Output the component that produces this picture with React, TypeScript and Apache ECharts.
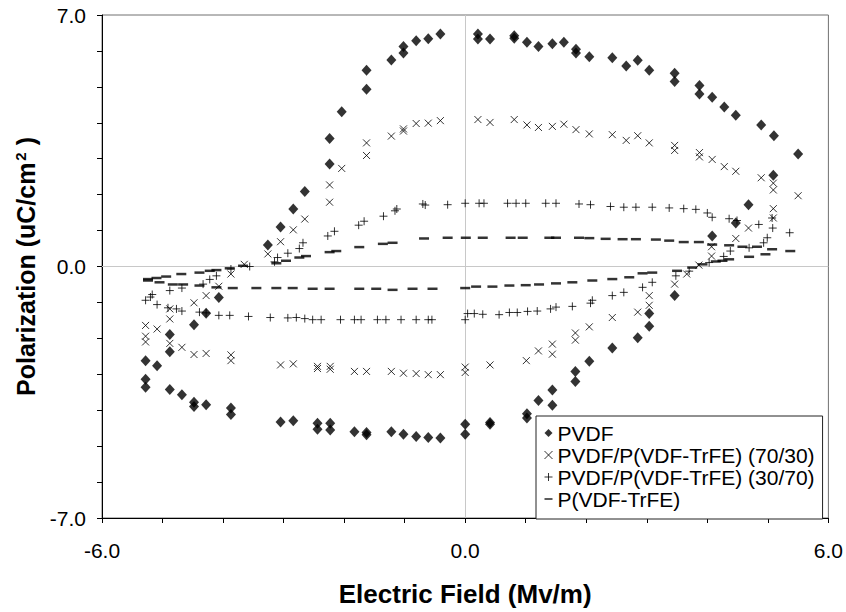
import React, { useEffect, useRef } from "react";
import * as echarts from "echarts";

const FONT = "'Liberation Sans', Arial, sans-serif";

const seriesNames = [
  "PVDF",
  "PVDF/P(VDF-TrFE) (70/30)",
  "PVDF/P(VDF-TrFE) (30/70)",
  "P(VDF-TrFE)",
];

const xTickLabels = [-6, 0, 6];
const yTickLabels = [-7, 0, 7];

const pvdf: [number, number][] = [
  [5.5, 3.13], [5.1, 3.64], [4.89, 3.94], [4.47, 4.21], [4.28, 4.44], [4.08, 4.71], [3.87, 4.8], [3.87, 5.04],
  [3.46, 5.15], [3.46, 5.38], [3.04, 5.46], [2.85, 5.74], [2.66, 5.58], [2.43, 5.81], [2.05, 5.84], [1.83, 5.94],
  [1.83, 6.05], [1.63, 6.24], [1.44, 6.2], [1.21, 6.12], [1.02, 6.24], [0.81, 6.35], [0.81, 6.42], [0.41, 6.33],
  [0.21, 6.33], [0.21, 6.47], [-0.41, 6.47], [-0.61, 6.34], [-0.81, 6.28], [-1.02, 6.12], [-1.02, 5.94],
  [-1.22, 5.75], [-1.63, 5.46], [-1.63, 4.93], [-2.04, 4.31], [-2.24, 3.56], [-2.24, 2.85], [-2.65, 2.09],
  [-2.84, 1.6], [-3.05, 1.1], [-3.26, 0.6],
  [-4.07, -0.86], [-4.28, -1.3], [-4.48, -1.62], [-4.88, -1.89], [-4.88, -2.37], [-5.28, -2.62], [-5.09, -2.76],
  [-5.28, -3.14], [-5.28, -3.36], [-4.88, -3.42], [-4.68, -3.57], [-4.48, -3.78], [-4.48, -3.9], [-4.28, -3.85],
  [-3.87, -3.94], [-3.87, -4.12], [-3.05, -4.33], [-2.84, -4.29], [-2.44, -4.36], [-2.44, -4.53], [-2.23, -4.36],
  [-2.23, -4.55], [-1.83, -4.6], [-1.63, -4.62], [-1.63, -4.68], [-1.22, -4.6], [-1.02, -4.67], [-0.81, -4.73],
  [-0.61, -4.76], [-0.41, -4.77], [0, -4.39], [0, -4.67], [0.41, -4.34], [0.41, -4.39], [1.02, -4.1], [1.02, -4.22],
  [1.21, -3.73], [1.44, -3.44], [1.44, -3.86], [1.82, -2.92], [1.82, -3.2], [2.05, -2.64], [2.43, -2.27],
  [2.85, -1.98], [3.04, -1.66], [3.04, -1.31], [3.46, -0.81], [4.08, 0.85], [4.47, 1.21], [4.68, 1.72], [5.09, 2.54],
];

const blend7030: [number, number][] = [
  [5.5, 1.97], [5.09, 2.13], [5.09, 2.32], [4.89, 2.47], [4.47, 2.65], [4.28, 2.78], [4.08, 2.98], [3.87, 3.05],
  [3.87, 3.17], [3.46, 3.23], [3.46, 3.37], [3.04, 3.44], [2.85, 3.64], [2.66, 3.51], [2.43, 3.67], [2.05, 3.69],
  [1.83, 3.81], [1.63, 3.96], [1.44, 3.9], [1.21, 3.87], [1.02, 3.94], [0.81, 4.09], [0.41, 4.01], [0.21, 4.09],
  [-0.41, 4.06], [-0.61, 3.99], [-0.81, 3.98], [-1.02, 3.77], [-1.02, 3.83], [-1.22, 3.63], [-1.63, 3.44],
  [-1.63, 3.09], [-2.04, 2.73], [-2.24, 2.27], [-2.24, 1.79], [-2.65, 1.32], [-2.84, 1.02], [-3.05, 0.69],
  [-3.26, 0.35], [-3.65, 0.06],
  [-3.87, -0.21], [-4.07, -0.55], [-4.28, -0.81], [-4.48, -1.01], [-4.88, -1.18], [-4.88, -1.46], [-5.28, -1.64],
  [-5.09, -1.74], [-5.28, -1.94], [-5.28, -2.1], [-4.88, -2.14], [-4.68, -2.25], [-4.48, -2.45], [-4.28, -2.42],
  [-3.87, -2.46], [-3.87, -2.62], [-3.05, -2.74], [-2.84, -2.71], [-2.44, -2.78], [-2.44, -2.84], [-2.23, -2.78],
  [-2.23, -2.86], [-1.83, -2.92], [-1.63, -2.92], [-1.22, -2.92], [-1.02, -2.97], [-0.81, -2.98], [-0.61, -3.01],
  [-0.41, -3.01], [0, -2.8], [0, -2.95], [0.41, -2.74], [1.01, -2.62], [1.21, -2.35], [1.44, -2.44], [1.44, -2.16],
  [1.82, -2.05], [1.82, -1.85], [2.05, -1.68], [2.43, -1.42], [2.85, -1.27], [3.04, -1.08], [3.04, -0.81],
  [3.46, -0.49], [3.66, -0.21], [3.86, 0.04], [4.07, 0.29], [4.07, 0.55], [4.47, 0.78], [4.68, 1.07], [5.09, 1.35],
  [5.09, 1.61],
];

const blend3070: [number, number][] = [
  [5.36, 0.94], [5.08, 1.07], [5.07, 1.35], [4.85, 1.17], [4.49, 1.28], [4.36, 1.33], [4.08, 1.37], [4.0, 1.49],
  [3.81, 1.59], [3.61, 1.61], [3.37, 1.63], [3.09, 1.65], [2.82, 1.65], [2.62, 1.65], [2.4, 1.67], [2.07, 1.72],
  [1.88, 1.74], [1.5, 1.76], [1.33, 1.76], [1.0, 1.76], [0.84, 1.76], [0.7, 1.76], [0.31, 1.76], [0.23, 1.76],
  [0, 1.76], [-0.29, 1.72], [-0.66, 1.71], [-0.7, 1.74], [-1.16, 1.55], [-1.13, 1.6], [-1.35, 1.4], [-1.67, 1.26],
  [-1.76, 1.15], [-2.16, 0.98], [-2.27, 0.85], [-2.68, 0.66], [-2.74, 0.5], [-2.93, 0.37], [-3.1, 0.25],
  [-3.15, 0.13],
  [-3.56, 0.0], [-3.87, -0.07], [-4.11, -0.26], [-4.22, -0.36], [-4.33, -0.49], [-4.68, -0.6], [-4.88, -0.67],
  [-5.17, -0.78], [-5.2, -0.85], [-5.28, -0.94], [-5.09, -1.06], [-4.91, -1.15], [-4.77, -1.18], [-4.68, -1.24],
  [-4.39, -1.27], [-4.28, -1.29], [-4.07, -1.36], [-3.89, -1.36], [-3.58, -1.39], [-3.22, -1.42], [-2.93, -1.43],
  [-2.79, -1.42], [-2.65, -1.45], [-2.52, -1.48], [-2.38, -1.48], [-2.06, -1.48], [-1.83, -1.48], [-1.72, -1.48],
  [-1.45, -1.48], [-1.31, -1.48], [-1.06, -1.48], [-0.81, -1.48], [-0.61, -1.48], [-0.55, -1.48], [0, -1.48],
  [0.04, -1.31], [0.15, -1.31], [0.29, -1.33], [0.56, -1.34], [0.73, -1.28], [0.86, -1.28], [1.03, -1.25],
  [1.19, -1.24], [1.41, -1.18], [1.5, -1.13], [1.77, -1.11], [2.07, -1.02], [2.1, -0.94], [2.43, -0.81],
  [2.62, -0.72], [2.93, -0.58], [3.09, -0.44], [3.48, -0.26], [3.7, -0.13], [4.03, 0.11], [4.27, 0.28],
  [4.38, 0.43], [4.69, 0.52], [4.93, 0.66], [4.99, 0.8],
];

const copolymer: [number, number][] = [
  [-5.24, -0.35], [-5.1, -0.32], [-4.94, -0.28], [-4.69, -0.21], [-4.39, -0.17], [-4.22, -0.12], [-4.11, -0.1],
  [-3.89, -0.05], [-3.67, 0.02], [-3.12, 0.09], [-2.96, 0.16], [-2.74, 0.25], [-2.63, 0.29], [-2.24, 0.4],
  [-2.13, 0.43], [-1.75, 0.54], [-1.36, 0.63], [-1.2, 0.66], [-0.68, 0.78], [-0.29, 0.8], [0.01, 0.8], [0.29, 0.8],
  [0.75, 0.8], [0.95, 0.8], [1.39, 0.8], [1.5, 0.8], [1.88, 0.8], [2.05, 0.79], [2.32, 0.77], [2.6, 0.76],
  [2.82, 0.76], [3.15, 0.75], [3.37, 0.72], [3.61, 0.68], [3.86, 0.68], [4.08, 0.61], [4.36, 0.59], [4.58, 0.55],
  [4.82, 0.55], [5.07, 0.48], [5.37, 0.43],
  [4.96, 0.34], [4.69, 0.27], [4.36, 0.2], [4.25, 0.16], [4.14, 0.14], [3.92, 0.06], [3.75, -0.03], [3.5, -0.12],
  [3.09, -0.17], [2.93, -0.19], [2.71, -0.3], [2.43, -0.35], [2.1, -0.39], [1.77, -0.44], [1.5, -0.47], [1.22, -0.5],
  [1.0, -0.52], [0.73, -0.53], [0.45, -0.56], [0.18, -0.56], [0, -0.6], [-0.54, -0.62], [-0.87, -0.62],
  [-1.2, -0.65], [-1.47, -0.62], [-1.75, -0.62], [-2.24, -0.62], [-2.52, -0.62], [-2.85, -0.6], [-3.12, -0.6],
  [-3.45, -0.6], [-3.84, -0.6], [-4.11, -0.58], [-4.39, -0.53], [-4.66, -0.5], [-4.83, -0.5], [-5.05, -0.44],
  [-5.24, -0.39],
];

const CROSS = "path://M0,0L10,10M10,0L0,10";
const PLUS = "path://M5,0L5,10M0,5L10,5";
const DASH = "path://M0,0H10V2H0Z";

export default function App() {
  const ref = useRef<HTMLDivElement>(null);
  useEffect(() => {
    if (!ref.current) return;
    const chart = echarts.init(ref.current, undefined, { renderer: "svg" });
    const strokeStyle = { color: "transparent", borderColor: "#000", borderWidth: 1 };
    chart.setOption({
      animation: false,
      backgroundColor: "#fff",
      textStyle: { fontFamily: FONT, color: "#000" },
      grid: {
        left: 102, right: 17, top: 15, bottom: 89,
        show: true, borderColor: "#707070", borderWidth: 1, backgroundColor: "transparent",
      },
      legend: {
        orient: "vertical",
        left: 536,
        top: 416,
        itemWidth: 8,
        itemHeight: 8,
        itemGap: 0,
        itemTextGap: 10,
        symbolKeepAspect: true,
        padding: [6, 8, 9, 8],
        backgroundColor: "#fff",
        borderColor: "#222",
        borderWidth: 1,
        borderRadius: 0,
        textStyle: { fontFamily: FONT, fontSize: 21, lineHeight: 22, color: "#000" },
        data: [
          { name: seriesNames[0], icon: "diamond", itemStyle: { color: "#000" } },
          { name: seriesNames[1], icon: CROSS, itemStyle: strokeStyle },
          { name: seriesNames[2], icon: PLUS, itemStyle: strokeStyle },
          { name: seriesNames[3], icon: DASH, itemStyle: { color: "#000" } },
        ],
      },
      xAxis: {
        type: "value",
        min: -6,
        max: 6,
        interval: 1,
        axisLine: { show: true, onZero: false, lineStyle: { color: "#000", width: 1 } },
        axisTick: { show: true, length: 5, lineStyle: { color: "#000" } },
        axisLabel: {
          fontSize: 21, color: "#000", margin: 22, fontFamily: FONT,
          formatter: (v: number) => (xTickLabels.includes(v) ? v.toFixed(1) : ""),
        },
        splitLine: { show: false },
        name: "Electric Field (Mv/m)",
        nameLocation: "middle",
        nameGap: 63,
        nameTextStyle: { fontSize: 26, fontWeight: "bold", color: "#000", fontFamily: FONT },
      },
      yAxis: {
        type: "value",
        min: -7,
        max: 7,
        interval: 1,
        axisLine: { show: true, onZero: false, lineStyle: { color: "#000", width: 1 } },
        axisTick: { show: true, length: 5, lineStyle: { color: "#000" } },
        axisLabel: {
          fontSize: 21, color: "#000", margin: 16, fontFamily: FONT,
          formatter: (v: number) => (yTickLabels.includes(v) ? v.toFixed(1) : ""),
        },
        splitLine: { show: false },
        name: "Polarization (uC/cm{sup|2} )",
        nameLocation: "middle",
        nameRotate: 90,
        nameGap: 64,
        nameTextStyle: {
          fontSize: 25, fontWeight: "bold", color: "#000", fontFamily: FONT,
          rich: {
            sup: { fontSize: 15, fontWeight: "bold", color: "#000", fontFamily: FONT, verticalAlign: "top", padding: [0, 0, 0, 2] },
          },
        },
      },
      series: [
        {
          type: "scatter",
          name: "zero-lines",
          data: [],
          silent: true,
          z: 1,
          markLine: {
            silent: true,
            z: 1,
            symbol: ["none", "none"],
            label: { show: false },
            lineStyle: { color: "#c8c8c8", type: "solid", width: 1 },
            emphasis: { disabled: true },
            data: [{ xAxis: 0 }, { yAxis: 0 }],
          },
        },
        {
          type: "scatter", name: seriesNames[3], data: copolymer, symbol: "rect", symbolSize: [10, 2.5],
          itemStyle: { color: "#000" }, silent: true, z: 2,
        },
        {
          type: "scatter", name: seriesNames[2], data: blend3070, symbol: PLUS, symbolSize: 8,
          itemStyle: strokeStyle, silent: true, z: 3,
        },
        {
          type: "scatter", name: seriesNames[1], data: blend7030, symbol: CROSS, symbolSize: 7,
          itemStyle: strokeStyle, silent: true, z: 4,
        },
        {
          type: "scatter", name: seriesNames[0], data: pvdf, symbol: "diamond", symbolSize: [10, 11],
          itemStyle: { color: "#000" }, silent: true, z: 5,
        },
      ],
    });
    return () => chart.dispose();
  }, []);
  return <div ref={ref} style={{ width: 846, height: 612, position: "absolute", left: 0, top: 0 }} />;
}
